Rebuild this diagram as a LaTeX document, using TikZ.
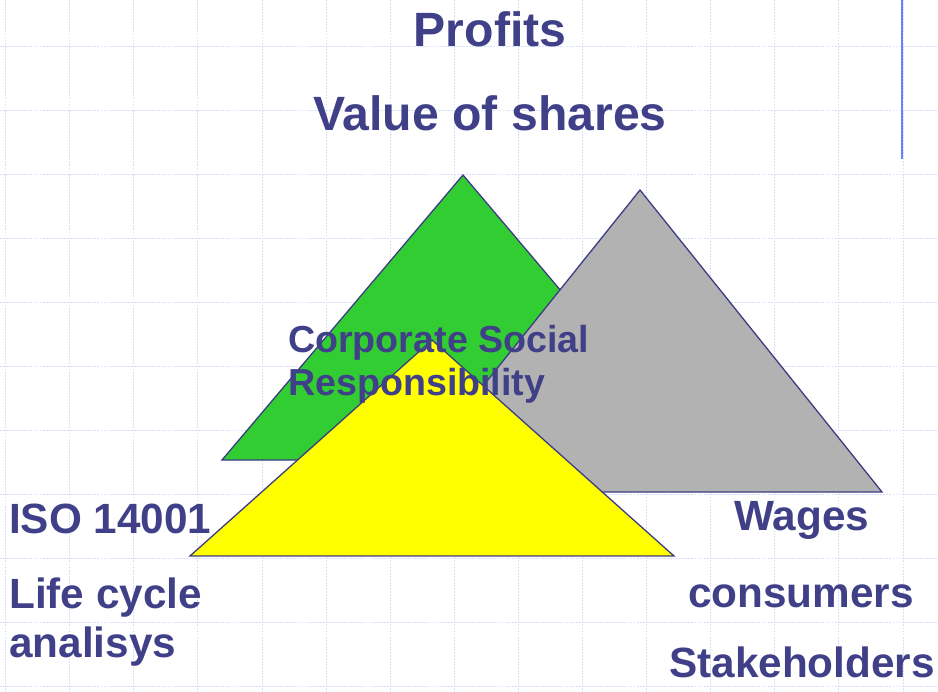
\documentclass[tikz,border=0pt]{standalone}
\usepackage{fontspec}
\setmainfont{Liberation Sans}

\definecolor{txtblue}{RGB}{64,64,136}
\definecolor{gridblue}{RGB}{214,222,252}
\definecolor{edgeblue}{RGB}{60,60,130}
\definecolor{barblue}{RGB}{105,130,250}
\definecolor{csrgreen}{RGB}{50,205,50}
\definecolor{csrgray}{RGB}{178,178,178}
\definecolor{csryellow}{RGB}{255,255,0}

\tikzset{
  bigword/.style={text=txtblue,inner sep=0pt,anchor=base,
    font=\fontsize{41.1}{48}\selectfont\bfseries},
  sideword/.style={text=txtblue,inner sep=0pt,
    font=\fontsize{36.1}{42}\selectfont\bfseries},
  csrword/.style={text=txtblue,inner sep=0pt,anchor=base west,
    font=\fontsize{32.1}{37}\selectfont\bfseries},
  triangle/.style={draw=edgeblue,line width=1.1pt,line join=miter}
}

\begin{document}
\begin{tikzpicture}[x=0.03cm,y=-0.03cm]

\useasboundingbox (0,0) rectangle (938,692);

% background grid
\foreach \gx in {0,...,14}
  \draw[gridblue,line width=0.6pt,dash pattern=on 1.6pt off 1pt] (5.5+64.1*\gx,0) -- (5.5+64.1*\gx,692);
\foreach \gy in {0,...,10}
  \draw[gridblue,line width=0.6pt,dash pattern=on 1.6pt off 1pt] (0,46+64*\gy) -- (938,46+64*\gy);

\draw[barblue,line width=1.7pt] (902,0) -- (902,159);

% the three triangles
\filldraw[triangle,fill=csrgreen] (463,175) -- (222,460) -- (704,460) -- cycle;
\filldraw[triangle,fill=csrgray] (640,190) -- (398,492) -- (882,492) -- cycle;
\filldraw[triangle,fill=csryellow] (432,340) -- (190,556) -- (674,556) -- cycle;

% titles
\node[bigword] (profits) at (490,46) {Profits};
\node[bigword] (shares) at (490,130) {Value of shares};

\node[csrword] (csrtop) at (288,352) {Corporate Social};
\node[csrword] (csrbot) at (288,395) {Responsibility};

% left side
\node[sideword,anchor=base west] (iso) at (9,533) {ISO 14001};
\node[sideword,anchor=base west] (life) at (9,608) {Life cycle};
\node[sideword,anchor=base west] (lca) at (9,657) {analisys};

% right side
\node[sideword,anchor=base] (wages) at (802,530) {Wages};
\node[sideword,anchor=base] (consumers) at (801,607) {consumers};
\node[sideword,anchor=base] (stake) at (802,677) {Stakeholders};

\end{tikzpicture}
\end{document}
